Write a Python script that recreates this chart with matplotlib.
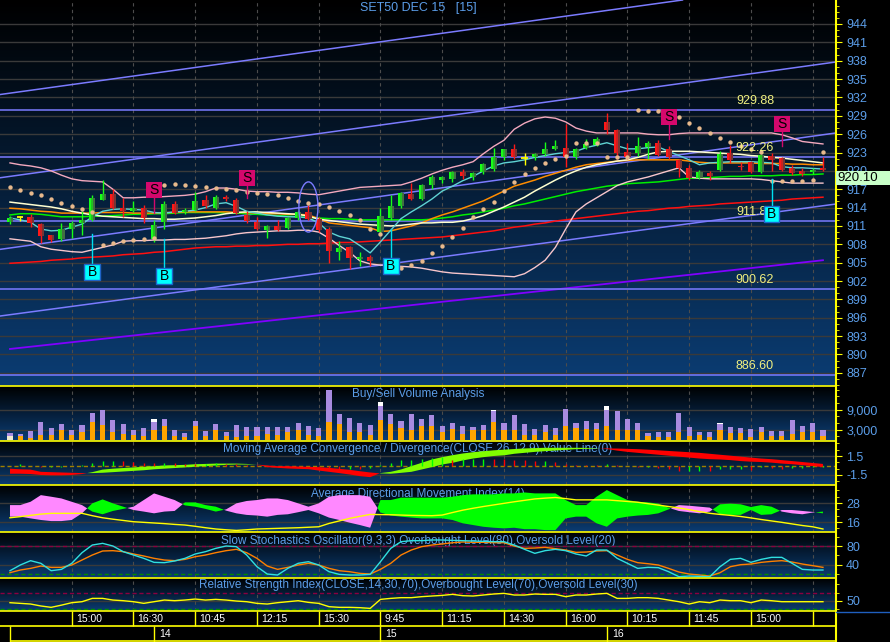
import numpy as np
import matplotlib
matplotlib.use("Agg")
import matplotlib.pyplot as plt
from matplotlib.patches import Rectangle, Ellipse
from matplotlib.lines import Line2D
from matplotlib.colors import LinearSegmentedColormap
from matplotlib.ticker import FixedLocator

plt.rcParams['font.family'] = ['Liberation Sans', 'DejaVu Sans']

# ---------------- data: SET50 DEC 15, 15 minute bars ----------------
opens = [911.7, 912.5, 912.5, 911.3, 909.5, 908.9, 910.5, 911.5, 912.0, 915.3,
         916.2, 914.0, 913.5, 914.0, 908.8, 911.6, 914.6, 913.2, 913.6, 915.2,
         914.0, 915.8, 915.2, 912.8, 911.7, 910.3, 911.0, 910.6, 912.3, 913.3,
         912.2, 910.5, 906.8, 907.6, 905.6, 905.9, 910.0, 912.3, 914.3, 916.3,
         915.4, 917.7, 918.5, 918.7, 919.8, 919.0, 919.8, 920.3, 922.2, 923.5,
         922.1, 922.2, 922.7, 923.6, 923.7, 922.2, 923.8, 924.3, 928.0, 926.7,
         923.1, 922.9, 923.9, 924.5, 923.5, 921.8, 920.5, 918.9, 919.7, 920.2,
         922.9, 920.8, 921.4, 919.8, 922.5, 922.1, 920.4, 920.0, 919.8, 920.5]
highs = [912.6, 912.6, 913.0, 911.5, 909.6, 911.5, 911.8, 913.5, 916.0, 918.5,
         917.0, 915.5, 915.0, 914.5, 912.0, 915.0, 915.0, 914.0, 916.5, 916.0,
         916.0, 916.1, 915.5, 913.5, 912.5, 911.2, 912.0, 912.5, 913.5, 914.5,
         912.5, 910.8, 908.5, 907.8, 906.8, 906.2, 914.0, 916.0, 916.6, 918.0,
         917.9, 919.3, 919.2, 920.0, 920.3, 919.8, 921.3, 923.7, 923.6, 924.4,
         923.0, 923.0, 924.7, 925.0, 927.6, 923.8, 925.2, 925.5, 929.4, 926.8,
         924.5, 925.5, 924.8, 925.0, 924.0, 922.0, 921.0, 920.2, 920.0, 923.2,
         924.2, 921.5, 921.6, 922.8, 923.0, 922.3, 921.0, 920.5, 920.5, 922.3]
lows = [911.3, 911.8, 910.8, 908.2, 908.3, 908.6, 909.0, 909.5, 911.8, 915.2,
        913.8, 912.5, 913.3, 911.5, 908.3, 910.5, 912.9, 912.9, 913.4, 914.0,
        913.8, 915.1, 912.9, 911.5, 910.3, 909.0, 910.2, 910.5, 912.0, 912.0,
        910.0, 905.0, 905.5, 904.0, 904.5, 904.4, 909.8, 912.0, 914.0, 915.2,
        915.2, 917.0, 918.0, 918.2, 918.7, 918.5, 919.5, 920.0, 921.8, 922.0,
        921.0, 921.8, 922.5, 923.4, 920.6, 922.0, 923.5, 924.0, 926.0, 922.0,
        922.0, 922.5, 922.0, 922.4, 922.0, 919.0, 918.5, 918.6, 918.5, 920.0,
        921.3, 920.2, 919.6, 919.6, 920.0, 920.0, 919.3, 919.2, 919.5, 919.9]
closes = [912.3, 912.5, 911.5, 909.3, 908.7, 910.5, 911.5, 911.9, 915.6, 916.2,
          914.0, 913.4, 914.0, 912.3, 911.1, 914.6, 913.1, 913.6, 915.1, 914.2,
          915.8, 915.4, 913.1, 911.8, 910.5, 911.0, 910.4, 912.3, 913.2, 912.2,
          910.3, 906.9, 907.4, 905.8, 906.0, 905.3, 912.6, 914.3, 916.4, 915.4,
          917.7, 919.0, 919.0, 919.8, 919.1, 919.6, 921.1, 922.3, 923.5, 922.2,
          922.1, 922.7, 923.6, 924.0, 922.2, 923.6, 924.4, 925.2, 926.6, 923.0,
          922.3, 924.1, 924.5, 922.6, 922.2, 920.5, 918.8, 919.8, 919.2, 922.8,
          921.7, 920.6, 919.8, 922.6, 921.8, 920.2, 919.7, 919.5, 920.1, 920.1]

bb_upper = [921.3, 921.0, 920.8, 920.5, 920.0, 919.3, 918.7, 918.4, 918.3, 918.2,
            917.0, 915.6, 915.6, 915.7, 915.7, 915.8, 915.9, 916.0, 916.2, 916.6,
            917.2, 917.2, 917.0, 916.7, 916.6, 916.6, 916.5, 916.5, 916.4, 916.2,
            916.1, 916.4, 916.7, 917.0, 917.3, 917.4, 917.5, 917.6, 917.7, 918.2,
            918.8, 919.5, 920.1, 920.6, 921.0, 921.5, 922.8, 924.0, 925.0, 926.8,
            927.8, 928.5, 928.8, 928.6, 928.0, 927.0, 926.5, 926.2, 926.2, 926.2,
            926.2, 926.2, 926.0, 925.9, 925.9, 926.1, 926.2, 926.2, 926.2, 926.2,
            926.2, 926.2, 926.2, 926.2, 926.2, 925.9, 925.4, 924.8, 924.6, 924.4]
bb_lower = [908.9, 908.7, 908.5, 907.6, 907.2, 907.0, 906.8, 906.7, 907.1, 907.5,
            907.9, 908.5, 908.6, 908.6, 908.7, 908.7, 908.8, 908.8, 908.9, 909.0,
            909.2, 909.4, 909.7, 909.9, 910.0, 910.1, 910.2, 910.2, 910.3, 910.3,
            910.0, 909.0, 907.8, 906.7, 905.3, 904.8, 904.6, 904.5, 904.4, 904.3,
            904.1, 903.8, 903.5, 903.3, 903.2, 903.1, 903.0, 902.9, 902.8, 902.7,
            903.2, 904.2, 905.4, 907.5, 910.5, 913.3, 914.6, 915.6, 916.6, 917.6,
            918.2, 918.6, 919.0, 919.5, 920.0, 920.5, 919.0, 918.8, 918.7, 918.7,
            918.7, 918.7, 918.7, 918.6, 918.4, 918.2, 918.0, 918.0, 918.0, 918.0]
ma_cyan = [912.3, 912.0, 911.6, 910.5, 910.2, 910.3, 910.8, 911.3, 912.5, 913.4,
           913.7, 913.8, 913.7, 913.6, 913.2, 913.1, 913.3, 913.4, 913.6, 914.0,
           914.6, 914.8, 914.2, 913.4, 913.1, 912.8, 912.6, 912.5, 912.5, 912.3,
           911.5, 910.0, 909.3, 908.9, 907.8, 906.6, 908.4, 910.3, 912.2, 913.3,
           914.3, 915.4, 916.7, 917.5, 918.4, 919.1, 920.0, 920.8, 921.3, 921.5,
           921.8, 922.2, 922.5, 922.8, 923.0, 923.2, 923.8, 924.2, 924.6, 924.1,
           923.6, 923.6, 923.8, 923.9, 923.2, 922.5, 921.8, 921.0, 921.3, 921.4,
           921.5, 921.5, 921.5, 921.4, 921.3, 920.7, 920.5, 920.5, 920.4, 920.3]
ma_white = [914.9, 914.7, 914.5, 914.3, 914.1, 913.8, 913.4, 913.1, 912.8, 912.6,
            912.5, 912.4, 912.3, 912.2, 912.2, 912.1, 912.1, 912.2, 912.3, 912.5,
            912.7, 913.0, 913.2, 913.3, 913.3, 913.2, 913.1, 913.0, 912.9, 912.6,
            912.1, 911.9, 911.7, 911.5, 911.3, 911.2, 911.1, 911.0, 911.1, 911.3,
            911.5, 911.5, 911.6, 911.6, 911.8, 912.2, 912.7, 913.4, 914.1, 914.9,
            915.7, 916.7, 917.6, 918.5, 919.3, 920.0, 920.6, 921.0, 921.3, 921.6,
            921.8, 922.2, 922.7, 923.1, 923.2, 923.2, 923.2, 923.1, 923.0, 922.9,
            922.8, 922.7, 922.5, 922.4, 922.2, 922.1, 921.9, 921.7, 921.5, 921.3]
ma_orange = [913.9, 913.8, 913.6, 913.4, 913.3, 913.1, 913.1, 913.1, 913.1, 913.2,
             913.2, 913.2, 913.1, 913.1, 913.1, 913.2, 913.2, 913.3, 913.3, 913.3,
             913.3, 913.3, 913.2, 913.2, 913.1, 913.0, 913.0, 912.9, 912.9, 912.8,
             912.2, 911.5, 911.3, 911.1, 910.9, 910.7, 910.1, 910.2, 910.6, 911.0,
             911.5, 912.2, 912.8, 913.3, 913.9, 914.5, 915.1, 915.9, 916.7, 917.5,
             918.0, 918.5, 919.1, 919.6, 920.1, 920.6, 921.0, 921.2, 921.4, 921.6,
             921.7, 921.8, 921.8, 921.8, 921.8, 921.8, 921.6, 921.4, 921.3, 921.3,
             921.3, 921.3, 921.3, 921.2, 921.2, 921.2, 921.1, 921.1, 921.0, 921.0]
ma_green = [912.8, 913.0, 913.0, 912.9, 912.7, 912.5, 912.5, 912.5, 912.6, 912.6,
            912.7, 912.8, 912.9, 912.9, 913.0, 913.0, 913.1, 913.2, 913.2, 913.2,
            913.2, 913.1, 913.1, 913.0, 912.9, 912.8, 912.7, 912.6, 912.5, 912.4,
            912.3, 912.2, 912.2, 912.1, 912.0, 912.0, 912.0, 912.0, 912.0, 912.0,
            912.0, 912.1, 912.3, 912.5, 912.8, 913.0, 913.3, 913.6, 913.9, 914.3,
            914.6, 915.0, 915.4, 915.8, 916.2, 916.6, 916.9, 917.2, 917.5, 917.7,
            917.9, 918.0, 918.1, 918.2, 918.4, 918.6, 918.8, 918.8, 918.9, 919.0,
            919.1, 919.1, 919.2, 919.2, 919.2, 919.3, 919.3, 919.4, 919.4, 919.5]
ma_red = [904.9, 905.0, 905.1, 905.2, 905.4, 905.5, 905.6, 905.8, 905.9, 906.0,
          906.1, 906.3, 906.4, 906.5, 906.7, 906.8, 907.0, 907.2, 907.4, 907.5,
          907.6, 907.6, 907.7, 907.7, 907.8, 907.8, 907.9, 908.0, 908.0, 908.1,
          908.1, 908.2, 908.3, 908.3, 908.4, 908.5, 908.6, 908.7, 908.8, 908.9,
          909.0, 909.1, 909.2, 909.4, 909.6, 909.8, 910.0, 910.2, 910.5, 910.8,
          911.0, 911.3, 911.5, 911.8, 912.0, 912.2, 912.4, 912.6, 912.8, 913.0,
          913.2, 913.4, 913.5, 913.7, 913.9, 914.0, 914.2, 914.3, 914.4, 914.6,
          914.7, 914.8, 914.9, 915.0, 915.1, 915.2, 915.4, 915.5, 915.6, 915.7]
sar = [917.4, 916.9, 916.4, 916.1, 915.4, 914.8, 914.3, 913.8, 913.3, 907.9,
       908.2, 908.5, 908.7, 908.9, 909.0, 917.7, 917.8, 917.7, 917.6, 917.4,
       917.2, 917.0, 916.9, 916.6, 916.4, 916.2, 916.1, 915.6, 915.1, 914.8,
       914.6, 914.1, 913.5, 912.8, 911.9, 910.5, 909.7, 904.0, 904.1, 904.6,
       905.3, 906.6, 907.7, 909.2, 910.7, 912.5, 913.8, 914.9, 916.7, 918.2,
       919.5, 920.5, 921.3, 922.0, 922.4, 924.6, 924.6, 924.6, 922.3, 922.3,
       922.3, 929.9, 929.8, 929.8, 929.3, 928.8, 927.8, 927.0, 926.2, 925.4,
       924.7, 924.1, 923.6, 923.1, 918.3, 918.3, 918.4, 918.4, 918.5, 923.1]

# channel lines (price at first and last bar) and horizontal levels
trend_first = [932.7, 919.1, 907.4, 896.5]
trend_last = [951.1, 937.5, 925.9, 914.3]
purple_first, purple_last = 890.9, 905.4
levels = [929.88, 922.26, 911.83, 900.62, 886.60]

sell_bars = [14, 23, 64, 75]
sell_level = [916.9, 918.8, 928.8, 927.7]
sell_tip = [913.1, 915.6, 925.2, 924.1]
buy_bars = [8, 15, 37, 74]
buy_level = [903.5, 902.8, 904.5, 913.0]
buy_tip = [909.7, 908.9, 910.5, 918.7]
circle_bar, circle_price, circle_w, circle_h = 29.0, 914.1, 1.85, 8.2

vol_sell = [1200, 1000, 500, 1500, 1500, 2800, 1500, 2200, 5200, 4500,
            2200, 1700, 1500, 1200, 3000, 4000, 1200, 800, 4200, 1200,
            2800, 1000, 700, 1200, 1000, 1700, 1500, 2200, 3000, 1500,
            1200, 5200, 4800, 2400, 2200, 1500, 6000, 4800, 3400, 3000,
            4200, 4200, 2400, 3300, 1700, 2800, 2800, 5200, 3000, 3000,
            1500, 1500, 2400, 1500, 4000, 3600, 3300, 3300, 4000, 3000,
            3000, 3000, 1000, 800, 800, 2400, 1200, 1500, 700, 3000,
            2000, 2000, 700, 2200, 1200, 1200, 1700, 2400, 2200, 1200]
vol_buy = [800, 700, 2200, 3800, 2100, 1700, 1500, 2000, 2600, 4500,
           3600, 3000, 1500, 2400, 2300, 2000, 1600, 1200, 1500, 1400,
           1700, 1200, 3500, 2600, 2600, 2200, 2400, 1500, 2000, 2700,
           2400, 9500, 3000, 4200, 2600, 2800, 4000, 2900, 2000, 4800,
           1900, 3300, 1800, 1800, 2500, 1000, 1400, 3300, 2100, 4500,
           3300, 1800, 2100, 2100, 5000, 1500, 2400, 1800, 5000, 5700,
           3300, 2100, 1000, 1600, 1400, 5700, 2600, 900, 1400, 1800,
           1900, 1600, 2300, 1400, 1500, 1500, 4300, 1800, 2600, 1800]
vol_extra = [0, 0, 0, 0, 0, 0, 0, 0, 0, 0,
             0, 0, 0, 0, 1000, 0, 0, 0, 0, 0,
             0, 0, 0, 0, 0, 0, 0, 0, 0, 0,
             0, 0, 0, 0, 0, 0, 1300, 0, 0, 0,
             0, 0, 0, 0, 0, 0, 0, 300, 0, 0,
             0, 0, 0, 0, 0, 0, 0, 0, 1200, 0,
             0, 0, 0, 0, 0, 0, 0, 0, 0, 300,
             0, 0, 0, 0, 0, 0, 0, 0, 0, 0]

macd_line = [-1.30, -1.30, -1.35, -1.50, -1.55, -1.55, -1.50, -1.35, -1.05, -0.65,
             -0.50, -0.40, -0.30, -0.20, -0.10, 0.00, 0.05, 0.10, 0.20, 0.25,
             0.30, 0.30, 0.30, 0.25, 0.15, -0.26, -0.37, -0.47, -0.53, -0.58,
             -0.80, -1.00, -1.20, -1.42, -1.68, -1.84, -1.20, -1.00, -0.63, -0.10,
             0.42, 0.95, 1.32, 1.63, 1.90, 2.10, 2.26, 2.40, 2.50, 2.60,
             2.70, 2.75, 2.80, 2.80, 2.80, 2.80, 2.78, 2.73, 2.60, 2.35,
             2.15, 2.00, 1.85, 1.70, 1.55, 1.40, 1.25, 1.10, 1.00, 0.95,
             0.85, 0.70, 0.60, 0.55, 0.45, 0.30, 0.20, 0.05, -0.10, -0.25]
signal_line = [-0.50, -0.60, -0.65, -1.00, -1.05, -1.10, -1.15, -1.20, -1.20, -1.15,
               -1.05, -0.95, -0.85, -0.75, -0.60, -0.50, -0.40, -0.30, -0.20, -0.10,
               0.00, 0.10, 0.15, 0.15, 0.15, 0.00, -0.10, -0.10, -0.16, -0.20,
               -0.26, -0.37, -0.53, -0.68, -0.90, -1.10, -1.25, -1.30, -1.16, -1.00,
               -0.63, -0.26, 0.16, 0.42, 0.80, 1.10, 1.32, 1.50, 1.60, 1.85,
               2.00, 2.15, 2.26, 2.37, 2.47, 2.58, 2.63, 2.68, 2.70, 2.68,
               2.63, 2.58, 2.50, 2.40, 2.30, 2.20, 2.10, 2.00, 1.85, 1.70,
               1.55, 1.40, 1.25, 1.10, 1.00, 0.85, 0.70, 0.55, 0.40, 0.25]
macd_hist = [0.0, 0.3, -0.1, -0.3, -0.3, -0.2, -0.1, 0.1, 0.4, 0.65,
             0.7, 0.65, 0.62, 0.45, 0.4, 0.45, 0.4, 0.3, 0.25, 0.3,
             0.4, 0.3, 0.2, 0.1, 0.05, -0.1, -0.1, -0.15, -0.1, -0.1,
             -0.2, -0.4, -0.5, -0.5, -0.6, -0.4, 0.1, 0.35, 0.8, 0.9,
             1.05, 1.2, 1.3, 0.9, 1.0, 1.05, 1.05, 1.0, 0.95, 0.9,
             0.8, 0.7, 0.7, 0.5, 0.25, 0.15, 0.1, 0.05, 0.25, 0.05,
             -0.1, -0.25, -0.25, -0.35, -0.5, -0.9, -0.9, -0.8, -0.9, -0.5,
             -0.5, -0.5, -0.7, -0.25, -0.35, -0.5, -0.45, -0.45, -0.25, -0.25]

adx = [18.7, 19.4, 20.2, 21.0, 21.5, 21.5, 21.5, 21.5, 20.0, 18.7,
       17.8, 17.0, 16.2, 15.8, 15.4, 15.0, 14.5, 14.1, 13.3, 12.4,
       11.6, 11.1, 10.7, 11.1, 11.6, 11.8, 12.0, 12.2, 12.4, 12.7,
       13.0, 15.1, 16.7, 18.3, 19.6, 20.8, 20.7, 20.6, 20.4, 20.2,
       20.1, 20.0, 20.4, 22.0, 23.5, 24.7, 25.8, 26.8, 27.8, 28.8,
       29.7, 30.6, 31.1, 31.5, 30.8, 30.0, 30.0, 30.0, 30.0, 29.5,
       29.0, 28.5, 27.6, 26.7, 25.8, 24.9, 23.8, 22.6, 21.5, 20.8,
       20.2, 19.5, 18.6, 17.6, 16.7, 15.8, 14.8, 13.8, 13.0, 11.6]
plus_di = [19.4, 19.4, 18.3, 17.3, 16.6, 16.6, 17.3, 21.5, 27.8, 30.3,
           27.8, 25.7, 23.6, 22.6, 21.5, 22.6, 23.0, 28.4, 28.4, 26.7,
           25.7, 23.2, 21.5, 20.5, 20.1, 19.4, 20.5, 20.9, 22.2, 23.6,
           21.5, 18.8, 17.3, 15.6, 14.1, 12.4, 29.9, 29.9, 31.4, 31.4,
           31.4, 31.4, 31.4, 32.0, 33.0, 33.5, 33.5, 33.5, 34.1, 34.1,
           34.7, 34.1, 34.1, 34.1, 29.9, 26.7, 26.7, 32.0, 36.2, 33.0,
           29.9, 28.8, 28.4, 27.6, 25.0, 23.0, 22.2, 21.5, 22.6, 27.2,
           27.6, 27.2, 25.5, 26.7, 25.7, 22.6, 21.5, 20.9, 22.0, 22.6]
minus_di = [26.7, 26.7, 28.8, 33.0, 32.0, 30.9, 28.8, 26.7, 22.6, 20.9,
            23.0, 24.3, 25.7, 29.9, 34.1, 32.0, 29.9, 26.5, 25.7, 24.3,
            22.6, 24.0, 27.8, 29.3, 29.9, 30.9, 30.9, 29.9, 27.8, 25.7,
            27.8, 32.0, 33.0, 33.0, 33.0, 32.0, 22.0, 20.1, 19.4, 18.8,
            18.3, 18.3, 18.3, 17.3, 15.2, 14.1, 13.0, 12.4, 12.0, 12.4,
            11.5, 11.5, 10.9, 10.9, 18.3, 19.4, 19.4, 15.2, 13.0, 18.3,
            19.4, 20.1, 20.5, 21.5, 24.0, 26.7, 26.3, 25.7, 25.1, 20.9,
            20.5, 20.5, 23.6, 20.5, 20.9, 23.6, 23.6, 23.0, 22.4, 21.5]

stoch_k = [27.1, 39.3, 48.6, 42.9, 27.1, 30.0, 42.9, 65.7, 82.1, 85.7,
           80.0, 67.9, 60.7, 53.6, 45.0, 44.3, 47.9, 53.6, 62.9, 67.9,
           75.0, 80.0, 78.6, 60.7, 35.7, 20.0, 17.9, 32.1, 42.9, 46.4,
           39.3, 25.0, 19.3, 17.9, 17.9, 19.3, 46.4, 75.0, 89.3, 91.4,
           91.4, 92.9, 92.9, 92.1, 91.4, 90.7, 90.0, 89.3, 89.3, 82.1,
           72.9, 64.3, 70.0, 72.9, 70.0, 62.9, 58.6, 71.4, 71.4, 53.6,
           42.9, 32.1, 34.3, 33.6, 25.0, 14.3, 15.7, 15.0, 14.3, 35.7,
           51.4, 53.6, 45.0, 51.4, 55.7, 55.7, 42.9, 30.0, 28.6, 28.6]
stoch_d = [22.9, 28.6, 32.1, 37.1, 34.3, 34.3, 39.3, 50.0, 60.7, 69.3,
           70.0, 67.9, 62.9, 58.6, 53.6, 50.0, 48.6, 51.4, 57.1, 60.7,
           65.7, 70.0, 72.9, 65.7, 53.6, 37.1, 30.0, 34.3, 39.3, 42.9,
           39.3, 32.1, 27.1, 25.0, 21.4, 20.0, 30.0, 42.9, 60.7, 71.4,
           78.6, 82.1, 84.3, 87.0, 88.6, 88.0, 87.9, 87.1, 87.1, 80.0,
           75.0, 75.7, 77.1, 74.3, 71.4, 66.4, 67.1, 69.3, 70.0, 60.7,
           51.4, 44.3, 42.1, 39.3, 32.1, 24.3, 20.0, 17.9, 15.7, 22.9,
           35.7, 40.0, 41.4, 45.0, 47.1, 48.6, 45.7, 41.4, 37.9, 34.3]
rsi = [45.9, 44.3, 42.7, 38.0, 34.7, 40.0, 45.9, 48.3, 56.3, 56.3,
       52.3, 50.7, 48.3, 44.3, 48.3, 52.3, 50.7, 52.3, 54.7, 52.3,
       53.9, 52.3, 49.9, 48.3, 44.3, 42.7, 45.9, 48.3, 50.7, 46.7,
       44.3, 36.3, 34.7, 34.7, 33.9, 32.2, 53.9, 56.3, 58.0, 58.0,
       60.4, 62.0, 63.5, 66.0, 62.8, 62.0, 64.4, 66.8, 68.4, 64.4,
       64.4, 66.8, 66.0, 66.0, 60.4, 64.4, 64.4, 66.8, 68.4, 56.3,
       56.3, 58.0, 58.0, 56.3, 52.3, 48.3, 42.7, 48.3, 45.9, 52.3,
       50.7, 50.7, 45.9, 52.3, 50.7, 48.3, 48.3, 48.3, 48.3, 48.3]

time_labels = ['15:00', '16:30', '10:45', '12:15', '15:30', '9:45',
               '11:15', '14:30', '16:00', '10:15', '11:45', '15:00']
day_starts = [14, 36, 58]
day_labels = ['14', '15', '16']

# ---------------- layout ----------------
n = len(closes)
idx = np.arange(n)
W, H, PW = 890, 642, 835
X0, X1 = -0.97, 80.17
TXT = '#5b9de8'
YEL = '#ffff00'
CHAN = '#7b7bff'

fig = plt.figure(figsize=(W / 100, H / 100), dpi=100, facecolor='black')
bg_cmap = LinearSegmentedColormap.from_list('bg', ['#0b3d74', '#000000'])


def panel(top, bottom, ylo, yhi, majors, labels, minors):
    ax = fig.add_axes([0, 1 - bottom / H, PW / W, (bottom - top) / H])
    ax.imshow(np.linspace(1, 0, 256)[:, None], cmap=bg_cmap, aspect='auto',
              extent=[X0, X1, ylo, yhi], zorder=0)
    ax.set_xlim(X0, X1)
    ax.set_ylim(ylo, yhi)
    for s in ax.spines.values():
        s.set_visible(False)
    ax.set_xticks([])
    ax.yaxis.tick_right()
    ax.set_yticks(majors)
    ax.set_yticklabels(labels)
    ax.yaxis.set_minor_locator(FixedLocator(minors))
    ax.tick_params(axis='y', which='both', color=YEL, labelcolor=TXT, labelsize=9, pad=3)
    ax.tick_params(axis='y', which='major', length=5)
    ax.tick_params(axis='y', which='minor', length=3)
    for v in majors:
        ax.axhline(v, color='#3a3a3a', lw=1, zorder=1)
    for g in range(6, n, 6):
        ax.axvline(g, color='#4c4c4c', lw=0.8, ls=(0, (3, 3)), zorder=1)
    return ax


def title(ax, y, s):
    ax.text(418 / W, 1 - y / H, s, transform=fig.transFigure, ha='center', va='center',
            color=TXT, fontsize=8.5, zorder=2)


# ---------------- main price panel ----------------
ax = panel(0, 386, 884.85, 947.92, list(range(887, 945, 3)),
           [str(v) for v in range(887, 945, 3)], list(range(885, 948)))

for p0, p1 in zip(trend_first, trend_last):
    ax.axline((0, p0), (n - 1, p1), color=CHAN, lw=1.1, zorder=2)
ax.plot([0, n - 1], [purple_first, purple_last], color='#8000ff', lw=1.3, zorder=2)
for lv in levels:
    ax.axhline(lv, color=CHAN, lw=1.1, zorder=2)
    ax.text(72.4, lv + 1.5, f'{lv:.2f}', color='#f0f080', ha='center', va='center',
            fontsize=9, zorder=6)

ax.plot(idx, ma_red, color='#ff1010', lw=1.1, zorder=3)
ax.plot(idx, ma_green, color='#00ee00', lw=1.1, zorder=3)
ax.plot(idx, ma_orange, color='#ff8c00', lw=1.1, zorder=3)
ax.plot(idx, ma_white, color='#ffffd0', lw=1.1, zorder=3)
ax.plot(idx, bb_upper, color='#f4a9bf', lw=1.0, zorder=3)
ax.plot(idx, bb_lower, color='#f8c6cc', lw=1.0, zorder=3)
ax.plot(idx, ma_cyan, color='#5fd3d3', lw=1.0, zorder=3)

for i in idx:
    o, h, l, c = opens[i], highs[i], lows[i], closes[i]
    if abs(c - o) < 0.05:
        ax.vlines(i, l, h, color=YEL, lw=1, zorder=4)
        ax.hlines(c, i - 0.3, i + 0.3, color=YEL, lw=1.3, zorder=4)
        continue
    shades = ['#18ff18', '#22c022', '#426f42'] if c > o else ['#ff1818', '#cc2020', '#743636']
    ax.vlines(i, l, h, color=shades[0], lw=1, zorder=4)
    lo, hi = min(o, c), max(o, c)
    for k, col in enumerate(shades):
        ax.add_patch(Rectangle((i - 0.3 + 0.2 * k, lo), 0.2, hi - lo, fc=col, ec='none', zorder=4))

ax.scatter(idx, sar, s=10, color='#e8b98c', zorder=5, linewidths=0)
ax.add_patch(Ellipse((circle_bar, circle_price), circle_w, circle_h, fill=False,
                     ec=CHAN, lw=1, zorder=5))

bw, bh = 1.55, 2.6
for b, lv, tip in zip(sell_bars, sell_level, sell_tip):
    ax.plot([b, b], [lv - bh / 2, tip], color='#d4086c', lw=1, zorder=6)
    ax.add_patch(Rectangle((b - bw / 2, lv - bh / 2), bw, bh, fc='#d4086c', ec='none', zorder=7))
    ax.text(b, lv, 'S', ha='center', va='center', color='black', fontsize=10, zorder=8)
for b, lv, tip in zip(buy_bars, buy_level, buy_tip):
    ax.plot([b, b], [lv + bh / 2, tip], color='#00e0f0', lw=1, zorder=6)
    ax.add_patch(Rectangle((b - bw / 2, lv - bh / 2), bw, bh, fc='#00ffff', ec='#1e64c8',
                           lw=1, zorder=7))
    ax.text(b, lv, 'B', ha='center', va='center', color='black', fontsize=10, zorder=8)

fig.text(418 / W, 1 - 8 / H, 'SET50 DEC 15   [15]', ha='center', va='center',
         color=TXT, fontsize=9)

# last price box on the scale
y_last = ax.transData.transform((0, closes[-1]))[1]
fig.add_artist(Rectangle((836 / W, (y_last - 15) / H), 54 / W, 14.5 / H,
                         transform=fig.transFigure, fc='#c8ffc8', ec='none', zorder=5))
fig.text(837 / W, (y_last - 7.5) / H, f'{closes[-1]:.2f}', ha='left', va='center',
         color='black', fontsize=9.5, zorder=6)

# ---------------- volume ----------------
axv = panel(386, 441, -450, 16050, [3000, 9000], ['3,000', '9,000'],
            [1000, 5000, 7000, 11000, 13000, 15000])
title(axv, 394, 'Buy/Sell Volume Analysis')
sell_cols = ['#f3ecd0'] + ['#ffa500'] * (n - 1)
axv.bar(idx, vol_sell, width=0.5, color=sell_cols, zorder=3)
axv.bar(idx, vol_buy, width=0.5, bottom=vol_sell, color='#a88be0', zorder=3)
axv.bar(idx, vol_extra, width=0.5, bottom=np.add(vol_sell, vol_buy), color='white', zorder=3)

# ---------------- MACD ----------------
axm = panel(441, 485, -3.08, 3.87, [-1.5, 1.5], ['-1.5', '1.5'], [-2.5, -0.5, 0.5, 2.5, 3.5])
title(axm, 449, 'Moving Average Convergence / Divergence(CLOSE,26,12,9),Value Line(0)')
m = np.array(macd_line)
s = np.array(signal_line)
axm.fill_between(idx, m, s, where=m >= s, interpolate=True, color='#80ff00', lw=0, zorder=3)
axm.fill_between(idx, m, s, where=m < s, interpolate=True, color='#ff0000', lw=0, zorder=3)
axm.axhline(0, color='#a08000', lw=1, ls=(0, (3, 2)), zorder=2)
hv = np.array(macd_hist)
hcol = ['#00ff00' if i == 0 or hv[i] >= hv[i - 1] else '#ff0000' for i in idx]
axm.vlines(idx, 0, hv, colors=hcol, lw=1, zorder=4)

# ---------------- ADX ----------------
axa = panel(485, 532, 9.7, 39.4, [16, 28], ['16', '28'], [12, 20, 24, 32, 36])
title(axa, 494, 'Average Directional Movement Index(14)')
pd_ = np.array(plus_di)
md_ = np.array(minus_di)
axa.fill_between(idx, pd_, md_, where=pd_ >= md_, interpolate=True, color='#00ff00', lw=0, zorder=3)
axa.fill_between(idx, pd_, md_, where=pd_ < md_, interpolate=True, color='#ff88ff', lw=0, zorder=3)
axa.plot(idx, adx, color=YEL, lw=1, zorder=4)

# ---------------- Stochastics ----------------
axs = panel(532, 578, 11.5, 110, [40, 80], ['40', '80'], [20, 60, 100])
title(axs, 541, 'Slow Stochastics Oscillator(9,3,3),Overbought Level(80),Oversold Level(20)')
axs.axhline(80, color='#8a0040', lw=1, ls=(0, (3, 2)), zorder=2)
axs.axhline(20, color='#008a00', lw=1, ls=(0, (3, 2)), zorder=2)
axs.plot(idx, stoch_d, color='#ff8000', lw=1, zorder=3)
axs.plot(idx, stoch_k, color='#30e0e0', lw=1, zorder=3)

# ---------------- RSI ----------------
axr = panel(578, 611, 25.9, 105.4, [50], ['50'], [30, 70, 90])
title(axr, 585, 'Relative Strength Index(CLOSE,14,30,70),Overbought Level(70),Oversold Level(30)')
axr.axhline(70, color='#8a0040', lw=1, ls=(0, (3, 2)), zorder=2)
axr.axhline(30, color='#008a00', lw=1, ls=(0, (3, 2)), zorder=2)
axr.plot(idx, rsi, color=YEL, lw=1, zorder=3)

# ---------------- time axis ----------------
axt = fig.add_axes([0, 0, PW / W, 31 / H])
axt.set_xlim(X0, X1)
axt.set_ylim(0, 31)
axt.axis('off')
for g, lab in zip(range(6, n, 6), time_labels):
    axt.vlines(g, 16, 31, color=YEL, lw=1)
    axt.text(g + 0.4, 23.5, lab, color='white', fontsize=7.5, va='center', ha='left')
axt.vlines(78, 16, 31, color=YEL, lw=1)
axt.vlines([0] + day_starts, 0, 16, color=YEL, lw=1)
for d, lab in zip(day_starts, day_labels):
    axt.text(d + 0.5, 8, lab, color='white', fontsize=7.5, va='center', ha='left')
axt.hlines(0.6, 0, X1, color=YEL, lw=1.2)


def fline(x0, y0, x1, y1, **kw):
    fig.add_artist(Line2D([x0 / W, x1 / W], [1 - y0 / H, 1 - y1 / H],
                          transform=fig.transFigure, **kw))


for y in (386, 441, 485, 532, 578, 611, 626):
    fline(0, y, PW, y, color=YEL, lw=1.2)
fline(PW + 0.5, 0, PW + 0.5, H, color=YEL, lw=1.5)
fline(PW + 1, 612, W, 612, color='#1f5fbf', lw=1)

fig.savefig('out.png', dpi=100, facecolor='black')
